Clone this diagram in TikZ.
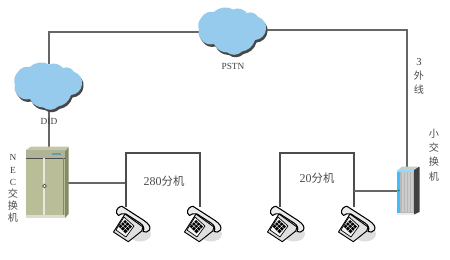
\documentclass[tikz,border=0pt]{standalone}
\usepackage{fontspec}
\setmainfont{Liberation Serif}
\newfontfamily\cjk{Noto Sans CJK SC}[Scale=0.95]
\definecolor{cloudblue}{HTML}{97CBEE}
\definecolor{wire}{HTML}{666666}
\definecolor{cabfront}{HTML}{B9BD98}
\definecolor{cabtop}{HTML}{C4C7A6}
\definecolor{cabside}{HTML}{868A62}
\tikzset{
  wireline/.style={draw=wire,line width=0.85pt},
  lbl/.style={inner sep=0pt,text=black!75,font=\fontsize{7}{8}\selectfont},
  cjklbl/.style={inner sep=0pt,text=black!70,font=\fontsize{8}{9}\selectfont\cjk},
  pics/cloud/.style={code={
    \foreach \dx/\dy/\col in {1.5/2.5/black!72,0/0/cloudblue}{
      \fill[\col,shift={(\dx,\dy)}] (3.5,10.5)
        to[bend left=35] (16,5) to[bend left=35] (35,2.5) to[bend left=35] (49,6)
        to[bend left=40] (60,10) to[bend left=40] (68,22.3) to[bend left=40] (57,33)
        to[bend left=30] (44,44.5) to[bend left=40] (29.3,45.5) to[bend left=30] (16,37)
        to[bend left=35] (3,32) to[bend left=30] (1,23) to[bend left=30] (3.5,10.5) -- cycle;
    }
  }},
  pics/phone/.style={code={
    \fill[black!13] (27,28) ellipse (11 and 7.5);
    % base
    \filldraw[fill=black!12,draw=black,line width=0.7pt,line join=round]
      (12,8) -- (30,21) -- (28.7,25) -- (15.3,35.7) -- (0.5,26) -- cycle;
    % dial face
    \filldraw[fill=black!4,draw=black,line width=0.5pt,line join=round]
      (11,11) -- (21,20) -- (13,31) -- (3,24) -- cycle;
    % keypad
    \fill[black] (12,14) -- (19,20.5) -- (12.5,27.5) -- (5.5,20.5) -- cycle;
    \draw[white,line width=0.25pt] (10,16) -- (17,22.5) (7.8,18.3) -- (14.8,24.8)
      (14.2,16.2) -- (7.5,22.6) (16.5,18.5) -- (9.8,25);
    % handset
    \filldraw[fill=black!8,draw=black,line width=0.8pt,line join=round]
      (3.5,7) .. controls (3,3) and (6,0.5) .. (9,0.3)
      -- (31,14.5) .. controls (36,18) and (38,21) .. (36.5,24)
      .. controls (35,26.5) and (32,26.5) .. (30,25.5)
      .. controls (32,22) and (30,19) .. (27,17)
      -- (13,8) .. controls (10,7) and (7,8) .. (5.5,9.5) -- cycle;
  }}
}
\begin{document}
\begin{tikzpicture}[x=0.75pt,y=-0.75pt]
\useasboundingbox (0,0) rectangle (450,260);

% connection points on the wiring
\coordinate (didtop) at (49,64);
\coordinate (didbot) at (49,110);
\coordinate (corner1) at (49,32);
\coordinate (pstnleft) at (199,32);
\coordinate (pstnright) at (267,30);
\coordinate (corner2) at (407,30);
\coordinate (smalltop) at (407,168);
\coordinate (smallleft) at (398,191);
\coordinate (necroof) at (49,147);
\coordinate (necright) at (68,183);
\coordinate (a1) at (126,207);
\coordinate (a2) at (200,207);
\coordinate (a3) at (126,153);
\coordinate (a4) at (200,153);
\coordinate (a5) at (126,183);
\coordinate (b1) at (280,207);
\coordinate (b2) at (354,207);
\coordinate (b3) at (280,153);
\coordinate (b4) at (354,153);
\coordinate (b5) at (354,191);

% wiring
\draw[wireline] (didtop) -- (corner1) -- (pstnleft);
\draw[wireline] (pstnright) -- (corner2) -- (smalltop);
\draw[wireline] (didbot) -- (necroof);
\draw[wireline] (necright) -- (a5);
\draw[wireline,draw=black!70] (a1) -- (a3) -- (a4) -- (a2);
\draw[wireline,draw=black!70] (b1) -- (b3) -- (b4) -- (b2);
\draw[wireline] (b5) -- (smallleft);

% clouds
\pic at (14,62) {cloud};
\pic at (198,7) {cloud};

% NEC cabinet
\fill[cabside] (65,151) -- (68.5,147) -- (68.5,214) -- (65,218) -- cycle;
\fill[cabtop] (26,150) -- (31,146.5) -- (68.5,146.5) -- (65,151) -- cycle;
\fill[cabtop!90!black] (26,150) rectangle (65,158);
\fill[cabfront] (26,158) rectangle (65,218);
\fill[cabtop!60!white] (26,215) rectangle (65,218);
\fill[black!70] (26,158) rectangle (65,158.6);
\fill[cabtop!40!white] (43.3,158) rectangle (45,215);
\fill[cabside] (62.5,158) rectangle (64,215);
\fill[black!20!cyan!60!gray] (52,153.3) rectangle (60.5,155.3);
\filldraw[fill=white,draw=black!70,line width=0.5pt] (44.5,186) circle (1.8);

% small exchange
\fill[black!75] (414,168) -- (419.5,167) -- (419.5,212) -- (414,214.5) -- cycle;
\fill[black!20] (398,170) -- (402,166.5) -- (419,166.5) -- (414,170) -- cycle;
\fill[black!28] (397,170) rectangle (414,214.5);
\foreach \xx in {402,405,408,411}{\fill[black!20] (\xx,172) rectangle (\xx+1.5,212);}
\fill[black!8] (397,212.5) rectangle (414,214.5);
\fill[blue!35!cyan!75!white] (397,170) rectangle (400,213);
\fill[blue!30!cyan!45!white] (397,170) rectangle (414,172);
\fill[teal] (398.5,190.5) circle (1);

% telephones
\pic at (113,206) {phone};
\pic at (184,206) {phone};
\pic at (267,206) {phone};
\pic at (338,206) {phone};

% labels
\node[lbl] (did) at (49,121) {DID};
\node[lbl] (pstn) at (233,66) {PSTN};
\node[cjklbl,font=\fontsize{9}{10}\selectfont\cjk] (ext280) at (164,181) {{\fontspec{Liberation Serif}280}分机};
\node[cjklbl,font=\fontsize{9}{10}\selectfont\cjk] (ext20) at (317,178) {{\fontspec{Liberation Serif}20}分机};
\node[lbl,font=\fontsize{8}{9}\selectfont] (o3) at (419,62) {3};
\node[cjklbl] (o2) at (419,76) {外};
\node[cjklbl] (o1) at (419,90) {线};
\node[cjklbl] (s1) at (434,134) {小};
\node[cjklbl] (s2) at (434,148) {交};
\node[cjklbl] (s3) at (434,162) {换};
\node[cjklbl] (s4) at (434,177) {机};
\node[lbl] (n1) at (13,157) {N};
\node[lbl] (n2) at (13,170) {E};
\node[lbl] (n3) at (13,182) {C};
\node[cjklbl] (n4) at (13,194) {交};
\node[cjklbl] (n5) at (13,206) {换};
\node[cjklbl] (n6) at (13,218) {机};
\end{tikzpicture}
\end{document}
